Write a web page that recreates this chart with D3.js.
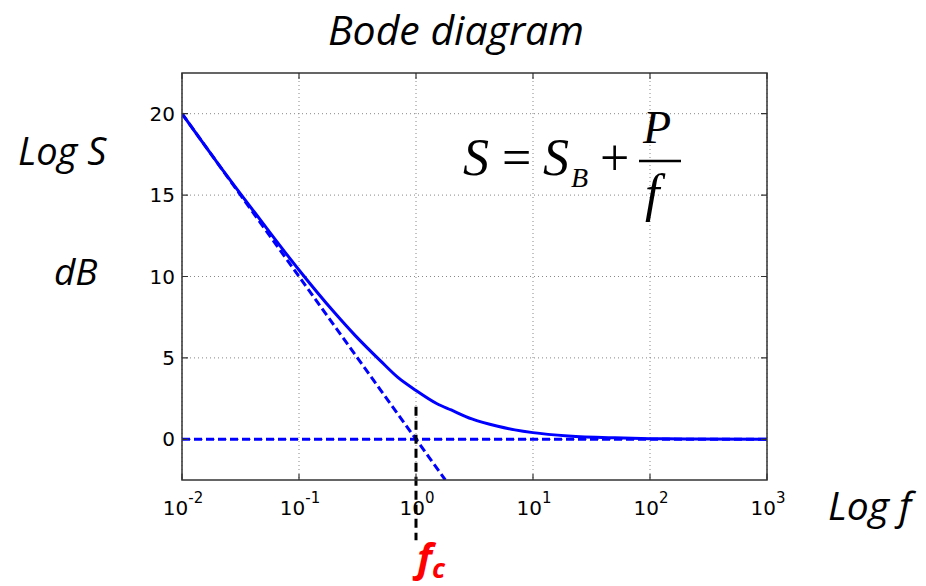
<!DOCTYPE html>
<html>
<head>
<meta charset="utf-8">
<script src="https://cdn.jsdelivr.net/npm/d3@7"></script>
<style>
  body { margin: 0; background: #fff; }
</style>
</head>
<body>
<div id="wrapper"></div>
<script>
// values
const freq = [0.01, 0.02, 0.05, 0.1, 0.2, 0.3, 0.5, 0.7, 1, 1.5, 2, 3, 5, 7, 10, 20, 50, 100, 200, 1000];
const gainDb = [20.0, 17.0, 13.2, 10.4, 7.8, 6.4, 4.8, 3.8, 3.0, 2.2, 1.8, 1.25, 0.8, 0.58, 0.41, 0.21, 0.09, 0.04, 0.02, 0.0];
const slopeF = [0.01, 1.78];
const slopeDb = [20, -2.5];
const flatF = [0.01, 1000];
const flatDb = [0, 0];
const cornerF = 1;
const cornerDb = [2, -6.2];
const xTicks = [0.01, 0.1, 1, 10, 100, 1000];
const xExp = ["-2", "-1", "0", "1", "2", "3"];
const yTicks = [0, 5, 10, 15, 20];

const dimensions = {
    width: 926,
    height: 586,
    margin: { top: 73, right: 159, bottom: 106, left: 182 }
};
dimensions.boundedWidth = dimensions.width - dimensions.margin.left - dimensions.margin.right;
dimensions.boundedHeight = dimensions.height - dimensions.margin.top - dimensions.margin.bottom;

const svg = d3.select("#wrapper").append("svg")
    .attr("width", dimensions.width)
    .attr("height", dimensions.height);

const bounds = svg.append("g")
    .attr("transform", `translate(${dimensions.margin.left},${dimensions.margin.top})`);

const xScale = d3.scaleLog()
    .domain([0.01, 1000])
    .range([0, dimensions.boundedWidth]);

const yScale = d3.scaleLinear()
    .domain([-2.5, 22.5])
    .range([dimensions.boundedHeight, 0]);

// grid
const gridColor = "#888";
bounds.selectAll(".vgrid").data(xTicks).enter().append("line")
    .attr("x1", d => xScale(d)).attr("x2", d => xScale(d))
    .attr("y1", 0).attr("y2", dimensions.boundedHeight)
    .attr("stroke", gridColor).attr("stroke-width", 1)
    .attr("stroke-dasharray", "1,3");
bounds.selectAll(".hgrid").data(yTicks).enter().append("line")
    .attr("x1", 0).attr("x2", dimensions.boundedWidth)
    .attr("y1", d => yScale(d)).attr("y2", d => yScale(d))
    .attr("stroke", gridColor).attr("stroke-width", 1)
    .attr("stroke-dasharray", "1,3");

// data lines
bounds.append("clipPath").attr("id", "clip")
    .append("rect")
    .attr("width", dimensions.boundedWidth)
    .attr("height", dimensions.boundedHeight);

const plot = bounds.append("g").attr("clip-path", "url(#clip)");
const line = d3.line()
    .x(d => xScale(d[0]))
    .y(d => yScale(d[1]));
const blue = "#0000ff";

plot.append("path")
    .attr("d", line(d3.zip(flatF, flatDb)))
    .attr("fill", "none").attr("stroke", blue)
    .attr("stroke-width", 3).attr("stroke-dasharray", "8,4");

plot.append("path")
    .attr("d", line(d3.zip(slopeF, slopeDb)))
    .attr("fill", "none").attr("stroke", blue)
    .attr("stroke-width", 3).attr("stroke-dasharray", "8,4");

plot.append("path")
    .attr("d", line.curve(d3.curveMonotoneX)(d3.zip(freq, gainDb)))
    .attr("fill", "none").attr("stroke", blue)
    .attr("stroke-width", 3);

// corner frequency marker
bounds.append("line")
    .attr("x1", xScale(cornerF)).attr("x2", xScale(cornerF))
    .attr("y1", yScale(cornerDb[0])).attr("y2", yScale(cornerDb[1]))
    .attr("stroke", "#000").attr("stroke-width", 3)
    .attr("stroke-dasharray", "9,5");

// axes box with inward ticks
const axisColor = "#333";
bounds.append("rect")
    .attr("width", dimensions.boundedWidth)
    .attr("height", dimensions.boundedHeight)
    .attr("fill", "none").attr("stroke", axisColor).attr("stroke-width", 1.5);

bounds.selectAll(".xtick").data(xTicks).enter().append("path")
    .attr("d", d => `M${xScale(d)},${dimensions.boundedHeight}v-6M${xScale(d)},0v6`)
    .attr("stroke", axisColor).attr("stroke-width", 1.2);
bounds.selectAll(".ytick").data(yTicks).enter().append("path")
    .attr("d", d => `M0,${yScale(d)}h6M${dimensions.boundedWidth},${yScale(d)}h-6`)
    .attr("stroke", axisColor).attr("stroke-width", 1.2);

// tick labels
const tickFont = "'DejaVu Sans', sans-serif";
bounds.selectAll(".ylab").data(yTicks).enter().append("text")
    .attr("x", -7).attr("y", d => yScale(d) + 7)
    .attr("text-anchor", "end")
    .attr("font-family", tickFont).attr("font-size", 20)
    .text(d => d);

const xLabels = bounds.selectAll(".xlab").data(xTicks).enter().append("text")
    .attr("x", d => xScale(d) + 1)
    .attr("y", dimensions.boundedHeight + 35)
    .attr("text-anchor", "middle")
    .attr("font-family", tickFont).attr("font-size", 20);
xLabels.append("tspan").text("10");
xLabels.append("tspan")
    .attr("dy", -12).attr("font-size", 15)
    .text((d, i) => xExp[i]);

// titles and labels
const labelFont = "'Open Sans', 'Noto Sans', sans-serif";
svg.append("text")
    .attr("x", 456).attr("y", 45)
    .attr("text-anchor", "middle")
    .attr("font-family", labelFont).attr("font-style", "italic")
    .attr("font-size", 41)
    .text("Bode diagram");

svg.append("text")
    .attr("x", 18).attr("y", 165)
    .attr("font-family", labelFont).attr("font-style", "italic")
    .attr("font-size", 38)
    .text("Log S");

svg.append("text")
    .attr("x", 54).attr("y", 285)
    .attr("font-family", labelFont).attr("font-style", "italic")
    .attr("font-size", 37)
    .text("dB");

svg.append("text")
    .attr("x", 828).attr("y", 520)
    .attr("font-family", labelFont).attr("font-style", "italic")
    .attr("font-size", 39)
    .text("Log f");

const fc = svg.append("text")
    .attr("x", 417).attr("y", 572)
    .attr("fill", "#ff0000")
    .attr("font-family", labelFont).attr("font-style", "italic")
    .attr("font-weight", "bold")
    .attr("font-size", 40);
fc.append("tspan").text("f");
fc.append("tspan").attr("dy", 6).attr("font-size", 27).text("c");

// formula
const serif = "'Liberation Serif', 'Times New Roman', serif";
const formula = svg.append("g")
    .attr("font-family", serif).attr("font-style", "italic");
formula.append("text").attr("x", 463).attr("y", 175).attr("font-size", 52).text("S");
formula.append("text").attr("x", 502).attr("y", 175).attr("font-size", 52)
    .attr("font-style", "normal").text("=");
formula.append("text").attr("x", 543).attr("y", 175).attr("font-size", 52).text("S");
formula.append("text").attr("x", 571).attr("y", 187).attr("font-size", 28).text("B");
formula.append("text").attr("x", 600).attr("y", 175).attr("font-size", 52)
    .attr("font-style", "normal").text("+");
formula.append("line")
    .attr("x1", 639).attr("x2", 681).attr("y1", 161).attr("y2", 161)
    .attr("stroke", "#000").attr("stroke-width", 2.5);
formula.append("text").attr("x", 643).attr("y", 143).attr("font-size", 46).text("P");
formula.append("text").attr("x", 645).attr("y", 211).attr("font-size", 52).text("f");
</script>
</body>
</html>
